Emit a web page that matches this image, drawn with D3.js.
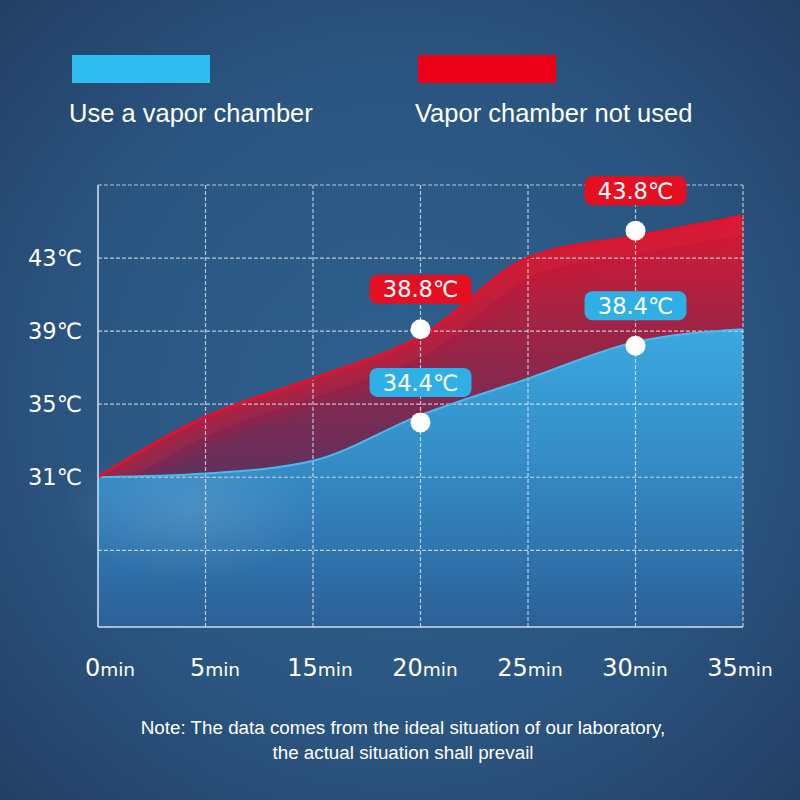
<!DOCTYPE html>
<html><head><meta charset="utf-8">
<script src="https://cdn.jsdelivr.net/npm/d3@7/dist/d3.min.js"></script>
<style>html,body{margin:0;padding:0;background:#2a4e78;}svg{display:block;}</style>
</head><body>
<script>
// ---- data ----
const categories = ["0min","5min","15min","20min","25min","30min","35min"];
const withChamber = [31.0, 31.2, 31.9, 34.4, 36.4, 38.4, 39.1];
const withoutChamber = [31.0, 34.3, 36.4, 38.7, 43.0, 44.2, 45.3];
const yTickValues = [31, 35, 39, 43];
const yTickLabels = ["31℃", "35℃", "39℃", "43℃"];
const yGridValues = [27, 31, 35, 39, 43, 47];
const markerCategories = ["20min", "30min"];
const blueMarkerValues = [34.0, 38.2];
const redMarkerValues = [39.1, 44.5];
const blueMarkerLabels = ["34.4℃", "38.4℃"];
const redMarkerLabels = ["38.8℃", "43.8℃"];
const seriesNames = ["Use a vapor chamber", "Vapor chamber not used"];
const noteLines = ["Note: The data comes from the ideal situation of our laboratory,", "the actual situation shall prevail"];

const W = 800, H = 800;
const svg = d3.select("body").append("svg").attr("width", W).attr("height", H);
const defs = svg.append("defs");

// background
const bg = defs.append("radialGradient").attr("id","bg").attr("cx","50%").attr("cy","50%").attr("r","70%");
bg.append("stop").attr("offset","0%").attr("stop-color","#30608f");
bg.append("stop").attr("offset","60%").attr("stop-color","#2a5580");
bg.append("stop").attr("offset","100%").attr("stop-color","#243f66");
svg.append("rect").attr("width",W).attr("height",H).attr("fill","url(#bg)");

const x = d3.scalePoint().domain(categories).range([98, 743]);
const xLabel = d3.scalePoint().domain(categories).range([110, 740]);
const y = d3.scaleLinear().domain([22.8, 47]).range([627, 185]);

const blueG = defs.append("linearGradient").attr("id","blueG").attr("gradientUnits","userSpaceOnUse")
  .attr("x1",0).attr("y1",330).attr("x2",0).attr("y2",627);
blueG.append("stop").attr("offset","0%").attr("stop-color","#3aa8df");
blueG.append("stop").attr("offset","50%").attr("stop-color","#3488c2");
blueG.append("stop").attr("offset","100%").attr("stop-color","#2b6098");

const redG = defs.append("linearGradient").attr("id","redG").attr("gradientUnits","userSpaceOnUse")
  .attr("x1",0).attr("y1",215).attr("x2",0).attr("y2",480);
redG.append("stop").attr("offset","0%").attr("stop-color","#d81a33");
redG.append("stop").attr("offset","45%").attr("stop-color","#9c2446");
redG.append("stop").attr("offset","100%").attr("stop-color","#5e315e");

const glow = defs.append("radialGradient").attr("id","glow");
glow.append("stop").attr("offset","0%").attr("stop-color","#ffffff").attr("stop-opacity",0.12);
glow.append("stop").attr("offset","100%").attr("stop-color","#ffffff").attr("stop-opacity",0);

defs.append("filter").attr("id","blur").attr("x","-20%").attr("y","-50%").attr("width","140%").attr("height","200%")
  .append("feGaussianBlur").attr("stdDeviation",10);

const curve = d3.curveMonotoneX;
const idx = d3.range(categories.length);

// blue area
const blueArea = d3.area().x(i => x(categories[i])).y0(y.range()[0]).y1(i => y(withChamber[i])).curve(curve);
svg.append("path").attr("d", blueArea(idx)).attr("fill","url(#blueG)");
svg.append("ellipse").attr("cx",190).attr("cy",510).attr("rx",130).attr("ry",70).attr("fill","url(#glow)");

// red area between curves
const redArea = d3.area().x(i => x(categories[i])).y0(i => y(withChamber[i])).y1(i => y(withoutChamber[i])).curve(curve);
defs.append("clipPath").attr("id","redClip").append("path").attr("d", redArea(idx));
svg.append("path").attr("d", redArea(idx)).attr("fill","url(#redG)");
const redLine = d3.line().x(i => x(categories[i])).y(i => y(withoutChamber[i])).curve(curve);
const blueLine = d3.line().x(i => x(categories[i])).y(i => y(withChamber[i])).curve(curve);
svg.append("g").attr("clip-path","url(#redClip)")
  .append("path").attr("d", redLine(idx)).attr("fill","none").attr("stroke","#e01530")
  .attr("stroke-width",36).attr("stroke-opacity",0.5).attr("filter","url(#blur)");

// grid
const grid = svg.append("g").attr("stroke","#e6eef8").attr("stroke-opacity",0.75).attr("stroke-width",1.2).attr("stroke-dasharray","4,2").attr("fill","none");
grid.selectAll("line.h").data(yGridValues).join("line")
  .attr("x1",x.range()[0]).attr("x2",x.range()[1]).attr("y1",d=>y(d)).attr("y2",d=>y(d));
grid.selectAll("line.v").data(categories.slice(1)).join("line")
  .attr("x1",d=>x(d)).attr("x2",d=>x(d)).attr("y1",y(47)).attr("y2",y.range()[0]);

// lines
svg.append("path").attr("d", blueLine(idx)).attr("fill","none").attr("stroke","#4cb8ec").attr("stroke-width",2);
svg.append("path").attr("d", redLine(idx)).attr("fill","none").attr("stroke","#e3122d").attr("stroke-width",3);

// axes (solid)
const axisG = svg.append("g").attr("stroke","#cfdceb").attr("stroke-width",1.6);
axisG.append("line").attr("x1",x.range()[0]).attr("x2",x.range()[0]).attr("y1",y(47)).attr("y2",y.range()[0]);
axisG.append("line").attr("x1",x.range()[0]).attr("x2",x.range()[1]).attr("y1",y.range()[0]).attr("y2",y.range()[0]);

// y tick labels
const numFont = "'DejaVu Sans',sans-serif";
svg.append("g").selectAll("text").data(yTickValues).join("text")
  .attr("x",28).attr("y",d=>y(d)).attr("dy","0.36em")
  .attr("font-family",numFont).attr("font-size",22.5).attr("fill","#ffffff")
  .text((d,i)=>yTickLabels[i]);

// x tick labels
const xt = svg.append("g").selectAll("text").data(categories).join("text")
  .attr("x",d=>xLabel(d)).attr("y",676).attr("text-anchor","middle")
  .attr("font-family",numFont).attr("fill","#ffffff");
xt.append("tspan").attr("font-size",24).text(d=>d.replace("min",""));
xt.append("tspan").attr("font-size",18.5).text("min");

// markers
function drawMarkers(vals, labels, color) {
  const g = svg.append("g");
  markerCategories.forEach((c,i) => {
    const cx = x(c), cy = y(vals[i]);
    const by = cy - 40;
    g.append("rect").attr("x",cx-51).attr("y",by-14.5).attr("width",102).attr("height",29).attr("rx",8).attr("fill",color);
    g.append("text").attr("x",cx).attr("y",by).attr("dy","0.36em").attr("text-anchor","middle")
      .attr("font-family",numFont).attr("font-size",22.5).attr("fill","#ffffff").text(labels[i]);
    g.append("circle").attr("cx",cx).attr("cy",cy).attr("r",10).attr("fill","#ffffff");
  });
}
drawMarkers(redMarkerValues, redMarkerLabels, "#e60f22");
drawMarkers(blueMarkerValues, blueMarkerLabels, "#2eb0e6");

// legend
const legendColors = ["#2dbdef", "#ec0018"];
const legendX = [72, 418];
seriesNames.forEach((n,i) => {
  svg.append("rect").attr("x",legendX[i]).attr("y",55).attr("width",138).attr("height",28).attr("fill",legendColors[i]);
  svg.append("text").attr("x",legendX[i]-3).attr("y",122).attr("font-family","'Liberation Sans',Arial,sans-serif")
    .attr("font-size",25.5).attr("fill","#ffffff").text(n);
});

// note
noteLines.forEach((t,i) => {
  svg.append("text").attr("x",403).attr("y",734 + i*25).attr("text-anchor","middle")
    .attr("font-family","'Liberation Sans',Arial,sans-serif").attr("font-size",18.8)
    .attr("fill","#ffffff").text(t);
});
</script>
</body></html>
